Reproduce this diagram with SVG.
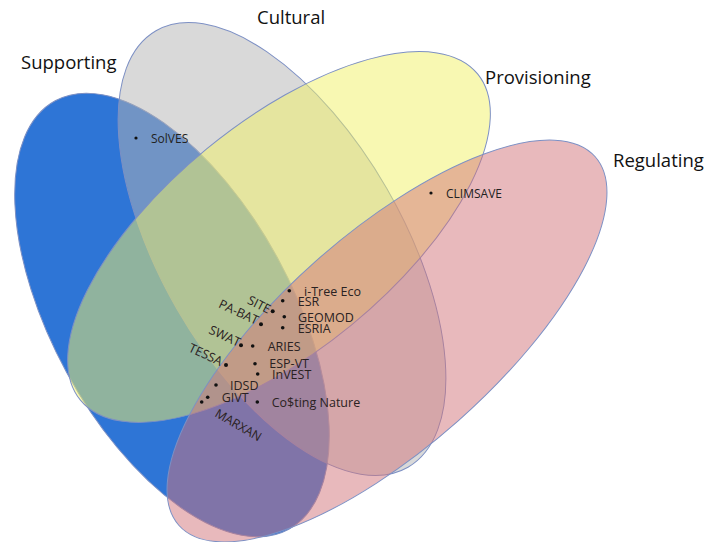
<svg xmlns="http://www.w3.org/2000/svg" width="708" height="542" viewBox="0 0 708 542">
<style>
.set{stroke:#7d90c4;stroke-width:1}
.title{font-family:"Open Sans","Liberation Sans",sans-serif;font-size:18.5px;fill:#111}
.lbl{font-family:"Open Sans","Liberation Sans",sans-serif;font-size:12.5px;fill:#2a2222}
.sm{font-family:"Open Sans","Liberation Sans",sans-serif;font-size:12px;fill:#222}
.dot{fill:#111}
</style>
<rect width="708" height="542" fill="#fff"/>
<g id="supporting">
<ellipse class="set" cx="172" cy="315" rx="244" ry="120" transform="rotate(61.4 172 315)" fill="#2e75d6"/>
</g>
<g id="cultural">
<ellipse class="set" cx="282" cy="249" rx="252" ry="121" transform="rotate(60 282 249)" fill="#b3b3b3" fill-opacity="0.5"/>
</g>
<g id="provisioning">
<ellipse class="set" cx="279" cy="237" rx="257" ry="114" transform="rotate(-39.4 279 237)" fill="#f2f266" fill-opacity="0.5"/>
</g>
<g id="regulating">
<ellipse class="set" cx="387" cy="341" rx="278" ry="107" transform="rotate(-41.5 387 341)" fill="#d17379" fill-opacity="0.5"/>
</g>
<g id="set-titles">
<text class="title" x="21" y="69">Supporting</text>
<text class="title" x="257" y="24">Cultural</text>
<text class="title" x="485" y="84">Provisioning</text>
<text class="title" x="613" y="167">Regulating</text>
</g>
<g id="connectors"></g>
<g id="tools">
<circle class="dot" cx="136" cy="138" r="1.6"/>
<text class="sm" x="151" y="143">SolVES</text>
<circle class="dot" cx="431" cy="193" r="1.6"/>
<text class="sm" x="446" y="198">CLIMSAVE</text>
<circle class="dot" cx="289.3" cy="290.7" r="1.8"/>
<text class="lbl" x="304" y="296">i-Tree Eco</text>
<circle class="dot" cx="282.7" cy="300.7" r="1.8"/>
<text class="lbl" x="297.7" y="306">ESR</text>
<circle class="dot" cx="284.3" cy="316.7" r="1.8"/>
<text class="lbl" x="298" y="321.7">GEOMOD</text>
<circle class="dot" cx="282.7" cy="327.7" r="1.8"/>
<text class="lbl" x="297.7" y="332.7">ESRIA</text>
<circle class="dot" cx="252.7" cy="346" r="1.8"/>
<text class="lbl" x="267.7" y="351">ARIES</text>
<circle class="dot" cx="255" cy="363.7" r="1.8"/>
<text class="lbl" x="269.3" y="368.3">ESP-VT</text>
<circle class="dot" cx="257.7" cy="374" r="1.8"/>
<text class="lbl" x="272" y="379">InVEST</text>
<circle class="dot" cx="216" cy="385" r="1.8"/>
<text class="lbl" x="230" y="390">IDSD</text>
<circle class="dot" cx="201.7" cy="402" r="1.8"/>
<circle class="dot" cx="207.7" cy="397.3" r="1.8"/>
<text class="lbl" x="221.7" y="401.7">GIVT</text>
<circle class="dot" cx="257.3" cy="402" r="1.8"/>
<text class="lbl" x="271.7" y="406.7">Co$ting Nature</text>
<circle class="dot" cx="272.7" cy="311.3" r="2"/>
<text class="lbl" text-anchor="end" transform="translate(268 314) rotate(27)">SITE</text>
<circle class="dot" cx="261" cy="324.3" r="2"/>
<text class="lbl" text-anchor="end" transform="translate(256 325) rotate(25)">PA-BAT</text>
<circle class="dot" cx="241" cy="345.3" r="2"/>
<text class="lbl" text-anchor="end" transform="translate(238 347) rotate(25)">SWAT</text>
<circle class="dot" cx="226" cy="365" r="2"/>
<text class="lbl" text-anchor="end" transform="translate(220 366) rotate(25)">TESSA</text>
<text class="lbl" transform="translate(214 416) rotate(30)">MARXAN</text>
</g>
</svg>
